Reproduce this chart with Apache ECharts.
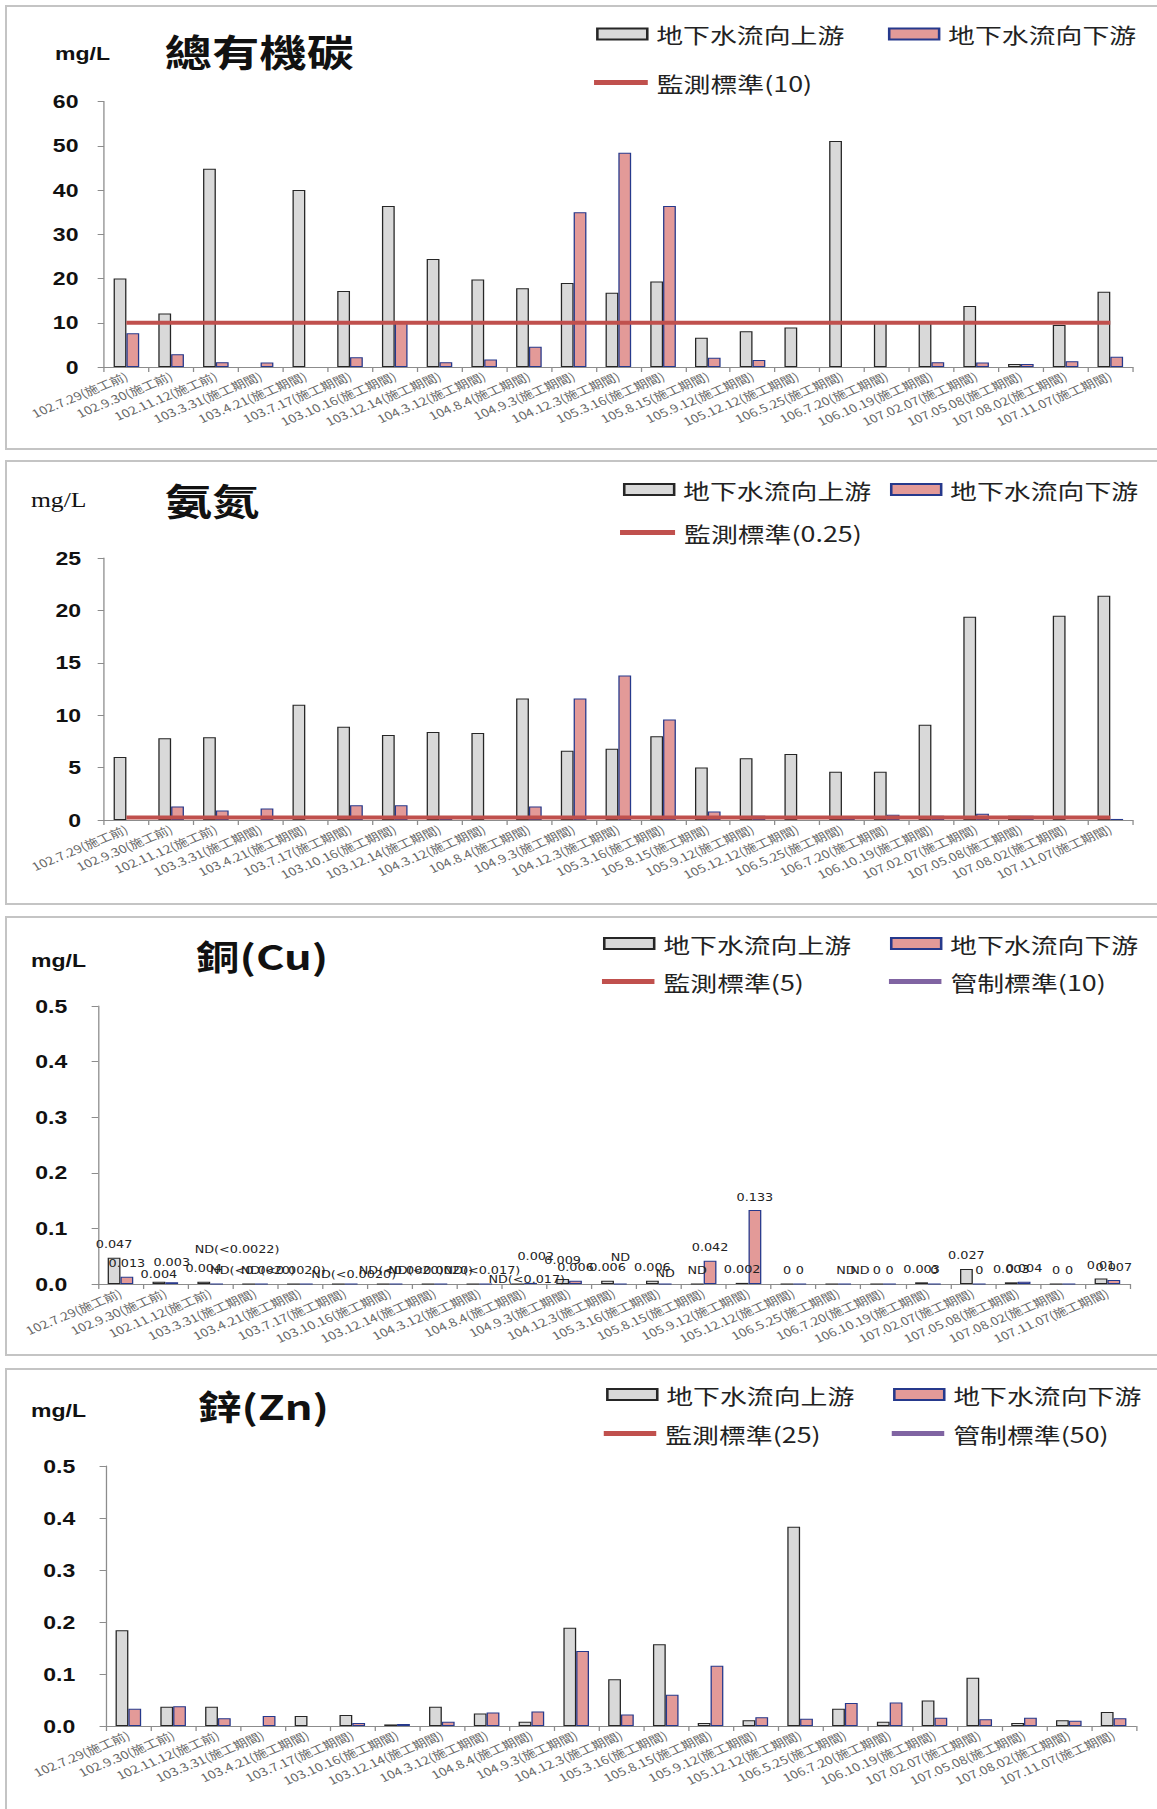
<!DOCTYPE html>
<html><head><meta charset="utf-8">
<script src="https://cdn.jsdelivr.net/npm/echarts@6/dist/echarts.min.js"></script>
<style>
html,body{margin:0;padding:0;background:#fff;width:1157px;height:1809px;overflow:hidden;}
.box{position:absolute;left:5px;width:1170px;border:2px solid #c4c4c4;box-sizing:border-box;}
.chart{position:absolute;left:6px;width:900px;transform:scaleX(1.28);transform-origin:0 0;}
</style></head><body>
<div class="box" style="top:5px;height:445px"></div>
<div class="box" style="top:460px;height:445px"></div>
<div class="box" style="top:916px;height:440px"></div>
<div class="box" style="top:1368px;height:470px"></div>
<div id="c1" class="chart" style="top:6px;height:442px"></div>
<div id="c2" class="chart" style="top:461px;height:442px"></div>
<div id="c3" class="chart" style="top:917px;height:438px"></div>
<div id="c4" class="chart" style="top:1369px;height:445px"></div>
<script>
// ---------- data ----------
const categories = ['102.7.29(施工前)','102.9.30(施工前)','102.11.12(施工前)','103.3.31(施工期間)','103.4.21(施工期間)','103.7.17(施工期間)','103.10.16(施工期間)','103.12.14(施工期間)','104.3.12(施工期間)','104.8.4(施工期間)','104.9.3(施工期間)','104.12.3(施工期間)','105.3.16(施工期間)','105.8.15(施工期間)','105.9.12(施工期間)','105.12.12(施工期間)','106.5.25(施工期間)','106.7.20(施工期間)','106.10.19(施工期間)','107.02.07(施工期間)','107.05.08(施工期間)','107.08.02(施工期間)','107.11.07(施工期間)'];
const seriesNames = ['地下水流向上游','地下水流向下游'];

// 總有機碳
const tocUp   = [20.0,12.1,44.8,null,40.0,17.2,36.4,24.4,19.8,17.8,19.0,16.8,19.3,6.6,8.1,8.9,51.1,10.0,10.0,13.8,0.7,9.5,17.0];
const tocDown = [7.6,2.9,1.1,1.0,null,2.2,10.0,1.1,1.7,4.6,35.0,48.4,36.4,2.1,1.6,null,null,null,1.1,1.0,0.7,1.3,2.3];
const tocStd  = [10,10,10,10,10,10,10,10,10,10,10,10,10,10,10,10,10,10,10,10,10,10,10];

// 氨氮
const nhUp   = [6.0,7.8,7.9,null,11.0,8.9,8.1,8.4,8.3,11.6,6.6,6.8,8.0,5.0,5.9,6.3,4.6,4.6,9.1,19.4,0.4,19.5,21.4];
const nhDown = [null,1.3,0.9,1.1,null,1.4,1.4,0.3,null,1.3,11.6,13.8,9.6,0.8,0.4,null,0.3,0.5,0.4,0.6,0.4,null,0.1];
const nhStd  = [0.25,0.25,0.25,0.25,0.25,0.25,0.25,0.25,0.25,0.25,0.25,0.25,0.25,0.25,0.25,0.25,0.25,0.25,0.25,0.25,0.25,0.25,0.25];

// 銅(Cu)
const cuUp   = [0.047,0.004,0.004,0,0,0,0,0,0,0,0.009,0.006,0.006,0,0.002,0,0,0,0.003,0.027,0.003,0,0.010];
const cuDown = [0.013,0.003,0,0,0,0,0,0,0,0.002,0.006,0,0,0.042,0.133,0,0,0,0,0,0.004,0,0.007];
const cuUpText   = ['0.047','0.004','0.004','ND(<0.0020)','','ND(<0.0020)','ND(<0.0020)','ND(<0.0020)','','ND(<0.017)','0.009','0.006','0.006','ND','0.002','0','ND','0','0.003','0.027','0.003','0','0.01'];
const cuDownText = ['0.013','0.003','ND(<0.0022)','ND(<0.0020)','','','','','ND(<0.017)','0.002','0.006','ND','ND','0.042','0.133','0','ND','0','0','0','0.004','0','0.007'];
const cuStdMonitor = [5,5,5,5,5,5,5,5,5,5,5,5,5,5,5,5,5,5,5,5,5,5,5];
const cuStdControl = [10,10,10,10,10,10,10,10,10,10,10,10,10,10,10,10,10,10,10,10,10,10,10];

// 鋅(Zn)
const znUp   = [0.184,0.037,0.037,null,0.019,0.021,0.003,0.037,0.024,0.008,0.189,0.090,0.157,0.006,0.011,0.383,0.033,0.008,0.049,0.093,0.006,0.011,0.027];
const znDown = [0.033,0.038,0.015,0.019,null,0.006,0.004,0.008,0.026,0.028,0.144,0.022,0.060,0.116,0.017,0.014,0.044,0.045,0.016,0.013,0.016,0.010,0.015];
const znStdMonitor = [25,25,25,25,25,25,25,25,25,25,25,25,25,25,25,25,25,25,25,25,25,25,25];
const znStdControl = [50,50,50,50,50,50,50,50,50,50,50,50,50,50,50,50,50,50,50,50,50,50,50];

// ---------- styling helpers ----------
const CJK = '"Noto Sans CJK TC","Noto Sans CJK SC",sans-serif';
const RED = '#c0504d', PURPLE = '#8064a2';
const upStyle = {color:'#d9d9d9', borderColor:'#262626', borderWidth:1};
const downStyle = {color:'#e39a98', borderColor:'#26398c', borderWidth:1};

function legendItem(name, left, top, isLine, w){
  return {
    data:[{name:name, icon:'rect'}], left:left, top:top, padding:0,
    itemWidth: w || 39, itemHeight: isLine ? 5 : 11, selectedMode:false,
    textStyle:{fontSize:21, fontFamily:CJK, color:'#222', padding:[0,0,0,2]}
  };
}
function texts(unitX, unitY, unitStyle, title, titleX, titleY, titleSize){
  return [
    {type:'text', x:unitX, y:unitY, style:Object.assign({text:'mg/L', fill:'#111', verticalAlign:'middle', textVerticalAlign:'middle'}, unitStyle)},
    {type:'text', x:titleX, y:titleY, style:{text:title, fill:'#111', fontSize:titleSize, fontWeight:'bold', fontFamily:CJK, verticalAlign:'middle', textVerticalAlign:'middle'}}
  ];
}
function xAxis(){
  return {type:'category', data:categories,
    axisLine:{lineStyle:{color:'#8c8c8c', width:1}},
    axisTick:{show:true, length:5, lineStyle:{color:'#8c8c8c'}},
    axisLabel:{interval:0, rotate:28, fontSize:11, color:'#666', fontFamily:CJK, margin:8}};
}
function yAxis(max, interval, margin, fmt){
  return {type:'value', min:0, max:max, interval:interval,
    splitLine:{show:false},
    axisLine:{show:true, lineStyle:{color:'#8c8c8c', width:1}},
    axisTick:{show:true, length:5, lineStyle:{color:'#8c8c8c'}},
    axisLabel:{fontSize:18, fontWeight:'bold', color:'#111', fontFamily:'"Liberation Sans",Arial,sans-serif', margin:margin, formatter:fmt}};
}
function bars(up, down){
  return [
    {type:'bar', name:seriesNames[0], data:up, barWidth:10, barGap:'0%', itemStyle:upStyle},
    {type:'bar', name:seriesNames[1], data:down, barWidth:10, barGap:'0%', itemStyle:downStyle}
  ];
}
function stdLine(name, data, color){
  return {type:'line', name:name, data:data, symbol:'none', z:5,
    lineStyle:{color:color, width:4}, itemStyle:{color:color}};
}
const unitBold = {fontSize:18, fontWeight:'bold', fontFamily:'"Liberation Sans",Arial,sans-serif'};
const unitSerif = {fontSize:20, fontFamily:'"Liberation Serif","DejaVu Serif",serif'};
const f1 = v => v.toFixed(1);

// ---------- panel 1 ----------
echarts.init(document.getElementById('c1'), null, {renderer:'svg'}).setOption({
  animation:false,
  grid:{left:76.6, right:19.8, top:95.5, bottom:81},
  legend:[
    legendItem(seriesNames[0], 461, 17.5),
    legendItem(seriesNames[1], 689, 17.5),
    legendItem('監測標準(10)', 459.4, 66, true, 42)
  ],
  graphic:texts(38.3, 47, unitBold, '總有機碳', 124, 45, 37),
  xAxis:xAxis(), yAxis:yAxis(60, 10, 20),
  series:bars(tocUp, tocDown).concat([stdLine('監測標準(10)', tocStd, RED)])
});

// ---------- panel 2 ----------
echarts.init(document.getElementById('c2'), null, {renderer:'svg'}).setOption({
  animation:false,
  grid:{left:76.6, right:19.8, top:97, bottom:83},
  legend:[
    legendItem(seriesNames[0], 482, 18),
    legendItem(seriesNames[1], 690.6, 18),
    legendItem('監測標準(0.25)', 479.7, 61, true, 43)
  ],
  graphic:texts(19.5, 39, unitSerif, '氨氮', 124, 39, 37),
  xAxis:xAxis(), yAxis:yAxis(25, 5, 18),
  series:bars(nhUp, nhDown).concat([stdLine('監測標準(0.25)', nhStd, RED)])
});

// ---------- panel 3 (Cu) with data labels ----------
const cuUpShift = {1:[0,6], 3:[3,0], 5:[12,4], 6:[14,0], 7:[2,0], 9:[7,9], 10:[0,-5], 16:[11,0]};
const cuDownShift = {1:[0,-7], 2:[16,-21], 3:[17,0], 8:[-3,0], 9:[4,-13], 11:[0,-13], 12:[0,3], 16:[12,0]};
function labelled(vals, txt, shift){
  return vals.map((v,i)=>({value:v, label:{show:txt[i]!=='', formatter:txt[i], offset:shift[i]||[0,0]}}));
}
const cuLabel = {show:true, position:'top', distance:8, fontSize:10, fontFamily:'"DejaVu Sans",sans-serif', color:'#222'};
const cuBars = bars(labelled(cuUp, cuUpText, cuUpShift), labelled(cuDown, cuDownText, cuDownShift));
cuBars.forEach(s => s.label = cuLabel);
echarts.init(document.getElementById('c3'), null, {renderer:'svg'}).setOption({
  animation:false,
  grid:{left:71.9, right:22, top:89, bottom:71},
  legend:[
    legendItem(seriesNames[0], 466.4, 16),
    legendItem(seriesNames[1], 690.6, 16),
    legendItem('監測標準(5)', 465.6, 54, true, 41),
    legendItem('管制標準(10)', 689.8, 54, true, 41)
  ],
  graphic:texts(19.5, 43, unitBold, '銅(Cu)', 148.4, 38, 34),
  xAxis:xAxis(), yAxis:yAxis(0.5, 0.1, 24, f1),
  series:cuBars.concat([stdLine('監測標準(5)', cuStdMonitor, RED), stdLine('管制標準(10)', cuStdControl, PURPLE)])
});

// ---------- panel 4 (Zn) ----------
echarts.init(document.getElementById('c4'), null, {renderer:'svg'}).setOption({
  animation:false,
  grid:{left:78.1, right:17.2, top:97, bottom:88},
  legend:[
    legendItem(seriesNames[0], 468.8, 15),
    legendItem(seriesNames[1], 693, 15),
    legendItem('監測標準(25)', 467, 54, true, 41),
    legendItem('管制標準(50)', 692, 54, true, 41)
  ],
  graphic:texts(19.5, 41, unitBold, '鋅(Zn)', 150, 36, 34),
  xAxis:xAxis(), yAxis:yAxis(0.5, 0.1, 24, f1),
  series:bars(znUp, znDown).concat([stdLine('監測標準(25)', znStdMonitor, RED), stdLine('管制標準(50)', znStdControl, PURPLE)])
});
</script>
</body></html>
